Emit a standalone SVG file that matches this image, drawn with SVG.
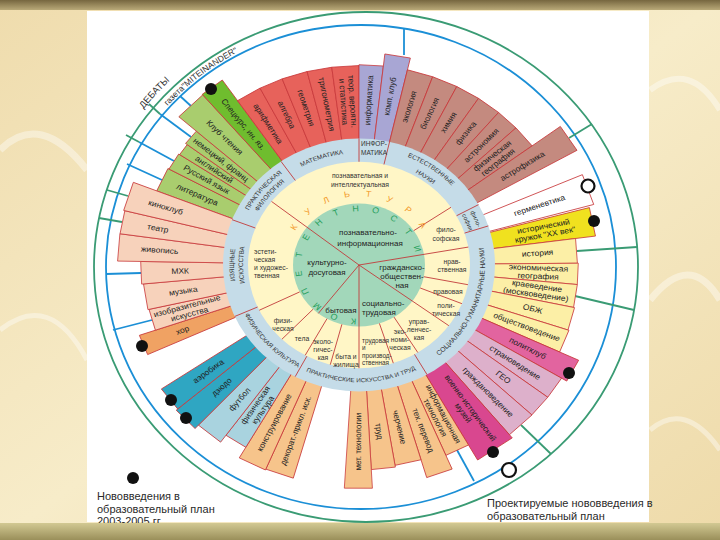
<svg xmlns="http://www.w3.org/2000/svg" width="720" height="540" viewBox="0 0 720 540">
<defs>
<linearGradient id="bg" x1="0" y1="0" x2="1" y2="1">
<stop offset="0" stop-color="#efdcad"/><stop offset="0.5" stop-color="#f7ecc9"/><stop offset="1" stop-color="#eedaa9"/>
</linearGradient>
<linearGradient id="topband" x1="0" y1="0" x2="0" y2="1">
<stop offset="0" stop-color="#76663f"/><stop offset="1" stop-color="#b9a978"/>
</linearGradient>
<linearGradient id="botband" x1="0" y1="0" x2="0" y2="1">
<stop offset="0" stop-color="#d2c993"/><stop offset="1" stop-color="#9a8f5a"/>
</linearGradient>
<path id="pf1" d="M-120.7,-32.4 A125,125 0 0 1 -52.8,-113.3"/>
<path id="pf2" d="M-112,-30 A116,116 0 0 1 -49,-105.1"/>
<path id="pm" d="M-81.8,-87.8 A120.5,120.5 0 0 1 14.6,-119.6"/>
<path id="pe1" d="M21.9,-124.1 A126,126 0 0 1 109.1,-63"/>
<path id="pe2" d="M19.8,-112.2 A114,114 0 0 1 98.7,-57"/>
<path id="pfs1" d="M83.6,-92.9 A125,125 0 0 1 124.9,4.4"/>
<path id="pfs2" d="M77.6,-86.2 A116,116 0 0 1 115.9,4"/>
<path id="ps" d="M43.1,118.4 A126,126 0 0 0 111.2,-59.2"/>
<path id="pp" d="M-72.3,103.2 A126,126 0 0 0 75.8,100.6"/>
<path id="pfk" d="M-118.4,43.1 A126,126 0 0 0 -51.2,115.1"/>
<path id="pi1" d="M-113.3,52.8 A125,125 0 0 1 -113.3,-52.8"/>
<path id="pi2" d="M-105.1,49 A116,116 0 0 1 -105.1,-49"/>
<path id="pdeb" d="M103.8,177.4 A279,262 0 0 1 235,35.7"/>
<path id="pgaz" d="M138.6,144.5 A258,245 0 0 1 282.3,34"/>
</defs>
<style>
.bar{stroke:#c8383a;stroke-width:0.8}
.bl{font-family:"Liberation Sans",Arial,sans-serif;font-size:8.5px;fill:#222;text-anchor:middle;dominant-baseline:central}
.cr{font-family:"Liberation Sans",Arial,sans-serif;font-size:6.8px;fill:#333;text-anchor:middle;dominant-baseline:central}
.gr{font-family:"Liberation Sans",Arial,sans-serif;font-size:8px;fill:#222;text-anchor:middle;dominant-baseline:central}
.rg{font-family:"Liberation Sans",Arial,sans-serif;font-size:6.6px;fill:#333;text-anchor:middle}
.div{stroke:#c23b3b;stroke-width:0.9;fill:none;vector-effect:non-scaling-stroke}
.lk{font-family:"Liberation Sans",Arial,sans-serif;font-size:9px;text-anchor:middle;dominant-baseline:central}
.kg{fill:#27a05c}
.ko{fill:#f39a2a}
.sb{stroke:#1b8fd6;stroke-width:1.8;fill:none}
.sg{stroke:#3a9b74;stroke-width:1.8;fill:none}
.dot{fill:#111}
.odot{fill:#fff;stroke:#111;stroke-width:2.2}
.lg{font-family:"Liberation Sans",Arial,sans-serif;font-size:11px;fill:#2a2a2a}
.ot{font-family:"Liberation Sans",Arial,sans-serif;fill:#333;text-anchor:middle}
</style>

<rect width="720" height="540" fill="url(#bg)"/>
<g fill="none" stroke="#ffffff" stroke-opacity="0.4">
<path d="M0,150 Q40,110 87,170" stroke-width="7"/>
<path d="M0,330 Q50,290 87,360" stroke-width="5"/>
<path d="M650,90 Q690,60 720,110" stroke-width="6"/>
<path d="M650,300 Q690,250 720,300" stroke-width="7"/>
<path d="M650,430 Q685,400 720,450" stroke-width="5"/>
</g>
<rect x="0" y="0" width="720" height="10" fill="url(#topband)"/>
<rect x="87" y="11" width="562" height="511" fill="#ffffff"/>

<g id="rings">
<ellipse cx="366" cy="267" rx="272" ry="255" class="sg"/>
<ellipse cx="361" cy="267" rx="255" ry="242" class="sb"/>
<text class="ot" style="font-size:9.5px"><textPath href="#pdeb" startOffset="50%">ДЕБАТЫ</textPath></text>
<text class="ot" style="font-size:8.5px"><textPath href="#pgaz" startOffset="50%">газета"MITEINANDER"</textPath></text>
</g>

<g id="connectors">
<line class="sb" x1="404" y1="55" x2="404" y2="28"/>
<line class="sb" x1="191" y1="106" x2="180" y2="96"/>
<line class="sb" x1="191" y1="137" x2="160" y2="114"/>
<line class="sb" x1="174" y1="161" x2="139" y2="142"/>
<line class="sb" x1="162" y1="180" x2="127" y2="164"/>
<line class="sb" x1="141" y1="273" x2="106" y2="274"/>
<line class="sb" x1="152" y1="320" x2="113" y2="330"/>
<line class="sb" x1="457" y1="450" x2="474" y2="481"/>
<line class="sg" x1="160" y1="114" x2="149" y2="104"/>
<line class="sg" x1="139" y1="142" x2="126" y2="135"/>
<line class="sg" x1="128" y1="196" x2="107" y2="190"/>
<line class="sg" x1="122" y1="222" x2="99" y2="218"/>
<line class="sg" x1="569" y1="138" x2="592" y2="124"/>
<line class="sg" x1="577" y1="251" x2="637" y2="247"/>
<line class="sg" x1="575" y1="296" x2="634" y2="310"/>
<line class="sg" x1="521" y1="425" x2="551" y2="454"/>
</g>

<g id="wheel" transform="translate(359,265) scale(1,0.93)">
<g id="bars">
<g id="n-lit" transform="rotate(-155)"><path class="bar" fill="#a9cd6e" d="M130,-7.95L217,-13.27L217,13.27L130,7.95Z"/><text class="bl" transform="rotate(180)" x="-178.5">литература</text></g>
<g id="n-rus" transform="rotate(-149)"><path class="bar" fill="#a9cd6e" d="M130,-5.68L216,-9.43L216,9.43L130,5.68Z"/><text class="bl" transform="rotate(180)" x="-178">Русский язык</text></g>
<g id="n-eng" transform="rotate(-144.75)"><path class="bar" fill="#a9cd6e" d="M130,-3.97L215,-6.57L215,6.57L130,3.97Z"/><text class="bl" transform="rotate(180)" x="-177.5">английский</text></g>
<g id="n-ger" transform="rotate(-140.75)"><path class="bar" fill="#a9cd6e" d="M130,-5.11L217,-8.53L217,8.53L130,5.11Z"/><text class="bl" transform="rotate(180)" x="-178.5">немецкий, франц</text></g>
<g id="n-club" transform="rotate(-134.5)"><path class="bar" fill="#a9cd6e" d="M130,-9.09L240,-16.78L240,16.78L130,9.09Z"/><text class="bl" transform="rotate(180)" x="-192">Клуб чтения</text></g>
<g id="n-spec" transform="rotate(-127.5)"><path class="bar" fill="#6fbd2e" d="M130,-6.81L241,-12.63L241,12.63L130,6.81Z"/><text class="bl" transform="rotate(180)" x="-190.5">Спецкурс, ин. яз.</text></g>
<g id="n-arif" transform="rotate(-121)"><path class="bar" fill="#e7625b" d="M130,-7.95L214,-13.09L214,13.09L130,7.95Z"/><text class="bl" transform="rotate(180)" x="-177">арифметика</text></g>
<g id="n-alg" transform="rotate(-114.25)"><path class="bar" fill="#e7625b" d="M130,-7.38L214,-12.15L214,12.15L130,7.38Z"/><text class="bl" transform="rotate(180)" x="-177">алгебра</text></g>
<g id="n-geom" transform="rotate(-107.5)"><path class="bar" fill="#e7625b" d="M130,-7.95L214,-13.09L214,13.09L130,7.95Z"/><text class="bl" transform="rotate(180)" x="-177">геометрия</text></g>
<g id="n-trig" transform="rotate(-100.65)"><path class="bar" fill="#e7625b" d="M130,-7.61L214,-12.53L214,12.53L130,7.61Z"/><text class="bl" transform="rotate(180)" x="-176">тригонометрия</text></g>
<g id="n-teor" transform="rotate(-93.65)"><path class="bar" fill="#e7625b" d="M130,-8.29L214,-13.65L214,13.65L130,8.29Z"/><text class="bl" transform="rotate(180)" x="-176" y="-4.5">теор. вероятн.</text><text class="bl" transform="rotate(180)" x="-176" y="4.5">и статистика</text></g>
<g id="n-inf" transform="rotate(-86.75)"><path class="bar" fill="#a8a6d4" d="M130,-7.38L215,-12.21L215,12.21L130,7.38Z"/><text class="bl" x="177.5">информатика</text></g>
<g id="n-komp" transform="rotate(-80.25)"><path class="bar" fill="#a8a6d4" d="M130,-7.38L228,-12.95L228,12.95L130,7.38Z"/><text class="bl" x="184">комп. клуб</text></g>
<g id="n-ekol" transform="rotate(-73.5)"><path class="bar" fill="#c48a7f" d="M130,-7.95L215,-13.15L215,13.15L130,7.95Z"/><text class="bl" x="177.5">экология</text></g>
<g id="n-biol" transform="rotate(-66.5)"><path class="bar" fill="#c48a7f" d="M130,-7.95L215,-13.15L215,13.15L130,7.95Z"/><text class="bl" x="177.5">биология</text></g>
<g id="n-him" transform="rotate(-59.65)"><path class="bar" fill="#c48a7f" d="M130,-7.61L215,-12.58L215,12.58L130,7.61Z"/><text class="bl" x="177.5">химия</text></g>
<g id="n-fiz" transform="rotate(-52.95)"><path class="bar" fill="#c48a7f" d="M130,-7.61L215,-12.58L215,12.58L130,7.61Z"/><text class="bl" x="177.5">физика</text></g>
<g id="n-astr" transform="rotate(-46.4)"><path class="bar" fill="#c48a7f" d="M130,-7.27L215,-12.02L215,12.02L130,7.27Z"/><text class="bl" x="177.5">астрономия</text></g>
<g id="n-fgeo" transform="rotate(-39.85)"><path class="bar" fill="#c48a7f" d="M130,-7.61L215,-12.58L215,12.58L130,7.61Z"/><text class="bl" x="177.5" y="-4.5">физическая</text><text class="bl" x="177.5" y="4.5">география</text></g>
<g id="n-astrof" transform="rotate(-33)"><path class="bar" fill="#c48a7f" d="M130,-7.95L250,-15.29L250,15.29L130,7.95Z"/><text class="bl" x="195">астрофизика</text></g>
<g id="n-germ" transform="rotate(-19.5)"><path class="bar" fill="#ffffff" d="M130,-9.09L243,-16.99L243,16.99L130,9.09Z"/><text class="bl" x="191.5">герменевтика</text></g>
<g id="n-hist" transform="rotate(-11.25)"><path class="bar" fill="#f0e11f" d="M130,-8.52L238,-15.6L238,15.6L130,8.52Z"/><text class="bl" x="189" y="-4.5">исторический</text><text class="bl" x="189" y="4.5">кружок "XX век"</text></g>
<g id="n-istor" transform="rotate(-4)"><path class="bar" fill="#fcefa6" d="M130,-7.95L218,-13.33L218,13.33L130,7.95Z"/><text class="bl" x="179">история</text></g>
<g id="n-econ" transform="rotate(2.5)"><path class="bar" fill="#fcefa6" d="M130,-6.81L219,-11.48L219,11.48L130,6.81Z"/><text class="bl" x="179.5" y="-4.5">экономическая</text><text class="bl" x="179.5" y="4.5">география</text></g>
<g id="n-kraev" transform="rotate(8.75)"><path class="bar" fill="#fcefa6" d="M130,-7.38L219,-12.43L219,12.43L130,7.38Z"/><text class="bl" x="179.5" y="-4.5">краеведение</text><text class="bl" x="179.5" y="4.5">(москвоведение)</text></g>
<g id="n-obzh" transform="rotate(15.25)"><path class="bar" fill="#fcefa6" d="M130,-7.38L220,-12.49L220,12.49L130,7.38Z"/><text class="bl" x="180">ОБЖ</text></g>
<g id="n-obsh" transform="rotate(21.75)"><path class="bar" fill="#fcefa6" d="M130,-7.38L221,-12.55L221,12.55L130,7.38Z"/><text class="bl" x="180.5">обществоведение</text></g>
<g id="n-polit" transform="rotate(28)"><path class="bar" fill="#e2649f" d="M130,-6.81L242,-12.68L242,12.68L130,6.81Z"/><text class="bl" x="191">политклуб</text></g>
<g id="n-stran" transform="rotate(34)"><path class="bar" fill="#ddb0cb" d="M130,-6.81L236,-12.37L236,12.37L130,6.81Z"/><text class="bl" x="188">страноведение</text></g>
<g id="n-geo" transform="rotate(40)"><path class="bar" fill="#ddb0cb" d="M130,-6.81L236,-12.37L236,12.37L130,6.81Z"/><text class="bl" x="188">ГЕО</text></g>
<g id="n-grazh" transform="rotate(46.75)"><path class="bar" fill="#ddb0cb" d="M130,-8.52L236,-15.47L236,15.47L130,8.52Z"/><text class="bl" x="188">граждановедение</text></g>
<g id="n-voen" transform="rotate(55.5)"><path class="bar" fill="#d9478f" d="M130,-11.37L240,-21L240,21L130,11.37Z"/><text class="bl" x="190" y="-4.5">военно-исторический</text><text class="bl" x="190" y="4.5">музей</text></g>
<g id="n-inft" transform="rotate(63.75)"><path class="bar" fill="#f6c48b" d="M130,-7.38L222,-12.61L222,12.61L130,7.38Z"/><text class="bl" x="181" y="-4.5">информационная</text><text class="bl" x="181" y="4.5">технология</text></g>
<g id="n-tper" transform="rotate(70.25)"><path class="bar" fill="#f6c48b" d="M130,-7.38L238,-13.51L238,13.51L130,7.38Z"/><text class="bl" x="189">тех. перевод</text></g>
<g id="n-cher" transform="rotate(77)"><path class="bar" fill="#f6c48b" d="M130,-7.95L218,-13.33L218,13.33L130,7.95Z"/><text class="bl" x="179">черчение</text></g>
<g id="n-trud" transform="rotate(83.65)"><path class="bar" fill="#f6c48b" d="M130,-7.15L220,-12.11L220,12.11L130,7.15Z"/><text class="bl" x="180">труд</text></g>
<g id="n-met" transform="rotate(90.15)"><path class="bar" fill="#f6c48b" d="M130,-7.61L240,-14.05L240,14.05L130,7.61Z"/><text class="bl" transform="rotate(180)" x="-190">мет. технологии</text></g>
<g id="n-dekor" transform="rotate(109.5)"><path class="bar" fill="#f6c48b" d="M130,-7.95L238,-14.56L238,14.56L130,7.95Z"/><text class="bl" transform="rotate(180)" x="-189">декорат.-прикл. иск.</text></g>
<g id="n-konstr" transform="rotate(116.5)"><path class="bar" fill="#f6c48b" d="M130,-7.95L239,-14.62L239,14.62L130,7.95Z"/><text class="bl" transform="rotate(180)" x="-189.5">конструирование</text></g>
<g id="n-fk" transform="rotate(123)"><path class="bar" fill="#a9d3df" d="M130,-6.81L226,-11.84L226,11.84L130,6.81Z"/><text class="bl" transform="rotate(180)" x="-183" y="-4.5">физическая</text><text class="bl" transform="rotate(180)" x="-183" y="4.5">культура</text></g>
<g id="n-futb" transform="rotate(129.5)"><path class="bar" fill="#a9d3df" d="M130,-7.95L235,-14.37L235,14.37L130,7.95Z"/><text class="bl" transform="rotate(180)" x="-187.5">футбол</text></g>
<g id="n-dzudo" transform="rotate(136.25)"><path class="bar" fill="#2fa6c2" d="M130,-7.38L240,-13.63L240,13.63L130,7.38Z"/><text class="bl" transform="rotate(180)" x="-190">дзюдо</text></g>
<g id="n-aerob" transform="rotate(142.75)"><path class="bar" fill="#2fa6c2" d="M130,-7.38L238,-13.51L238,13.51L130,7.38Z"/><text class="bl" transform="rotate(180)" x="-189">аэробика</text></g>
<g id="n-hor" transform="rotate(158.25)"><path class="bar" fill="#f0a263" d="M130,-6.24L232,-11.14L232,11.14L130,6.24Z"/><text class="bl" transform="rotate(180)" x="-190">хор</text></g>
<g id="n-izo" transform="rotate(164.1)"><path class="bar" fill="#f7d2bb" d="M130,-7.04L215,-11.64L215,11.64L130,7.04Z"/><text class="bl" transform="rotate(180)" x="-177.5" y="-4.5">изобразительные</text><text class="bl" transform="rotate(180)" x="-177.5" y="4.5">искусства</text></g>
<g id="n-muz" transform="rotate(170.9)"><path class="bar" fill="#f7d2bb" d="M130,-8.41L216,-13.97L216,13.97L130,8.41Z"/><text class="bl" transform="rotate(180)" x="-178">музыка</text></g>
<g id="n-mhk" transform="rotate(177.8)"><path class="bar" fill="#f7d2bb" d="M130,-7.27L218,-12.19L218,12.19L130,7.27Z"/><text class="bl" transform="rotate(180)" x="-179">МХК</text></g>
<g id="n-zhiv" transform="rotate(184.5)"><path class="bar" fill="#f7d2bb" d="M130,-7.95L241,-14.74L241,14.74L130,7.95Z"/><text class="bl" transform="rotate(180)" x="-200">живопись</text></g>
<g id="n-teatr" transform="rotate(191)"><path class="bar" fill="#f7d2bb" d="M130,-6.81L241,-12.63L241,12.63L130,6.81Z"/><text class="bl" transform="rotate(180)" x="-205">театр</text></g>
<g id="n-kino" transform="rotate(197.75)"><path class="bar" fill="#f7d2bb" d="M130,-8.52L242,-15.86L242,15.86L130,8.52Z"/><text class="bl" transform="rotate(180)" x="-203">киноклуб</text></g>
</g>

<circle r="136" fill="#c5dce8"/>
<circle r="111" fill="#fff6c6"/>
<circle r="66" fill="#a2d7ba"/>

<g id="dividers">
<line class="div" x2="111" transform="rotate(-142)"/>
<line class="div" x2="111" transform="rotate(-10)"/>
<line class="div" x2="111" transform="rotate(36)"/>
<line class="div" x2="111" transform="rotate(90)"/>
<line class="div" x2="66" transform="rotate(128)"/>
<line class="div" x1="66" x2="111" transform="rotate(-34)"/>
<line class="div" x1="66" x2="111" transform="rotate(11)"/>
<line class="div" x1="66" x2="111" transform="rotate(22)"/>
<line class="div" x1="66" x2="111" transform="rotate(58)"/>
<line class="div" x1="66" x2="111" transform="rotate(72)"/>
<line class="div" x1="66" x2="111" transform="rotate(105)"/>
<line class="div" x1="66" x2="111" transform="rotate(119)"/>
<line class="div" x1="66" x2="111" transform="rotate(134)"/>
<line class="div" x1="66" x2="111" transform="rotate(154)"/>
<line class="div" x1="111" x2="136" transform="rotate(-125)"/>
<line class="div" x1="111" x2="136" transform="rotate(-90)"/>
<line class="div" x1="111" x2="136" transform="rotate(-77)"/>
<line class="div" x1="111" x2="136" transform="rotate(-28.5)"/>
<line class="div" x1="111" x2="136" transform="rotate(-18)"/>
<line class="div" x1="111" x2="136" transform="rotate(60)"/>
<line class="div" x1="111" x2="136" transform="rotate(118)"/>
<line class="div" x1="111" x2="136" transform="rotate(156)"/>
<line class="div" x1="111" x2="136" transform="rotate(201)"/>
</g>

<g id="competence">
<text class="lk kg" transform="rotate(185)" y="-61">К</text>
<text class="lk kg" transform="rotate(204.1)" y="-61">О</text>
<text class="lk kg" transform="rotate(223.2)" y="-61">М</text>
<text class="lk kg" transform="rotate(242.2)" y="-61">П</text>
<text class="lk kg" transform="rotate(261.3)" y="-61">Е</text>
<text class="lk kg" transform="rotate(280.4)" y="-61">Т</text>
<text class="lk kg" transform="rotate(299.5)" y="-61">Е</text>
<text class="lk kg" transform="rotate(318.6)" y="-61">Н</text>
<text class="lk kg" transform="rotate(337.6)" y="-61">Т</text>
<text class="lk kg" transform="rotate(356.7)" y="-61">Н</text>
<text class="lk kg" transform="rotate(375.8)" y="-61">О</text>
<text class="lk kg" transform="rotate(394.9)" y="-61">С</text>
<text class="lk kg" transform="rotate(413.9)" y="-61">Т</text>
<text class="lk kg" transform="rotate(433)" y="-61">И</text>
<text class="lk ko" transform="rotate(302)" y="-77">К</text>
<text class="lk ko" transform="rotate(318.3)" y="-77">У</text>
<text class="lk ko" transform="rotate(334.6)" y="-77">Л</text>
<text class="lk ko" transform="rotate(350.9)" y="-77">Ь</text>
<text class="lk ko" transform="rotate(367.1)" y="-77">Т</text>
<text class="lk ko" transform="rotate(383.4)" y="-77">У</text>
<text class="lk ko" transform="rotate(399.7)" y="-77">Р</text>
<text class="lk ko" transform="rotate(416)" y="-77">А</text>
</g>

<g id="areas">
<text class="rg"><textPath href="#pf1" startOffset="50%">ПРАКТИЧЕСКАЯ</textPath></text>
<text class="rg"><textPath href="#pf2" startOffset="50%">ФИЛОЛОГИЯ</textPath></text>
<text class="rg"><textPath href="#pm" startOffset="50%">МАТЕМАТИКА</textPath></text>
<text class="rg"><textPath href="#pe1" startOffset="50%">ЕСТЕСТВЕННЫЕ</textPath></text>
<text class="rg"><textPath href="#pe2" startOffset="50%">НАУКИ</textPath></text>
<text class="rg" style="font-size:6.2px"><textPath href="#pfs1" startOffset="50%">фило-</textPath></text>
<text class="rg" style="font-size:6.2px"><textPath href="#pfs2" startOffset="50%">софия</textPath></text>
<text class="rg" style="font-size:7px"><textPath href="#ps" startOffset="50%">СОЦИАЛЬНО-ГУМАНИТАРНЫЕ НАУКИ</textPath></text>
<text class="rg" style="font-size:6.3px"><textPath href="#pp" startOffset="50%">ПРАКТИЧЕСКИЕ ИСКУССТВА И ТРУД</textPath></text>
<text class="rg"><textPath href="#pfk" startOffset="50%">ФИЗИЧЕСКАЯ КУЛЬТУРА</textPath></text>
<text class="rg"><textPath href="#pi1" startOffset="50%">ИЗЯЩНЫЕ</textPath></text>
<text class="rg"><textPath href="#pi2" startOffset="50%">ИСКУССТВА</textPath></text>
</g>
</g>

<g id="area-inf">
<text class="cr" style="font-size:6.5px" x="374" y="143">ИНФОР-</text>
<text class="cr" style="font-size:6.5px" x="374" y="152">МАТИКА</text>
</g>

<g id="culture-types">
<text class="cr" x="360" y="175">познавательная и</text>
<text class="cr" x="360" y="184">интеллектуальная</text>
<text class="cr" x="446" y="229">фило-</text>
<text class="cr" x="446" y="238">софская</text>
<text class="cr" x="452" y="261">нрав-</text>
<text class="cr" x="452" y="269">ственная</text>
<text class="cr" x="448" y="291">правовая</text>
<text class="cr" x="446" y="305">поли-</text>
<text class="cr" x="446" y="313">тическая</text>
<text class="cr" x="419" y="321">управ-</text>
<text class="cr" x="419" y="329">ленчес-</text>
<text class="cr" x="419" y="337">кая</text>
<text class="cr" x="400" y="331">эко-</text>
<text class="cr" x="400" y="339">номи-</text>
<text class="cr" x="400" y="347">ческая</text>
<text class="cr" x="362" y="340" style="text-anchor:start;font-size:6.4px">трудовая</text>
<text class="cr" x="362" y="347.5" style="text-anchor:start;font-size:6.4px">и</text>
<text class="cr" x="362" y="355" style="text-anchor:start;font-size:6.4px">производ-</text>
<text class="cr" x="362" y="362.5" style="text-anchor:start;font-size:6.4px">ственная</text>
<text class="cr" x="346" y="356">быта и</text>
<text class="cr" x="346" y="364">жилища</text>
<text class="cr" x="323" y="341">эколо-</text>
<text class="cr" x="323" y="349">гичес-</text>
<text class="cr" x="323" y="357">кая</text>
<text class="cr" x="302" y="338">тела</text>
<text class="cr" x="283" y="320">физи-</text>
<text class="cr" x="283" y="328">ческая</text>
<text class="cr" x="254" y="251" style="text-anchor:start">эстети-</text>
<text class="cr" x="254" y="259" style="text-anchor:start">ческая</text>
<text class="cr" x="254" y="267" style="text-anchor:start">и художес-</text>
<text class="cr" x="254" y="275" style="text-anchor:start">твенная</text>
</g>

<g id="activity-types">
<text class="gr" x="368" y="232">познавательно-</text>
<text class="gr" x="370" y="243">информационная</text>
<text class="gr" x="327" y="262">культурно-</text>
<text class="gr" x="327" y="272">досуговая</text>
<text class="gr" x="402" y="267">гражданско-</text>
<text class="gr" x="402" y="276">обществен-</text>
<text class="gr" x="402" y="285">ная</text>
<text class="gr" x="362" y="303" style="text-anchor:start">социально-</text>
<text class="gr" x="362" y="312" style="text-anchor:start">трудовая</text>
<text class="gr" x="341" y="310">бытовая</text>
</g>

<g id="markers">
<circle class="dot" cx="211" cy="89" r="6"/>
<circle class="dot" cx="594" cy="221" r="6"/>
<circle class="dot" cx="142" cy="346" r="6"/>
<circle class="dot" cx="171" cy="400" r="6"/>
<circle class="dot" cx="186" cy="418" r="6"/>
<circle class="dot" cx="569" cy="373" r="6"/>
<circle class="dot" cx="493" cy="452" r="6"/>
<circle class="odot" cx="588" cy="186" r="6.5"/>
</g>

<g id="legend">
<circle class="dot" cx="133" cy="478" r="6"/>
<text class="lg" x="97" y="500">Нововведения в</text>
<text class="lg" x="97" y="512.5">образовательный план</text>
<text class="lg" x="97" y="525">2003-2005 гг.</text>
<circle class="odot" cx="509" cy="470" r="7"/>
<text class="lg" x="487" y="507">Проектируемые нововведения в</text>
<text class="lg" x="487" y="519.5">образовательный план</text>
</g>
<rect x="0" y="523" width="720" height="17" fill="url(#botband)"/>
</svg>
